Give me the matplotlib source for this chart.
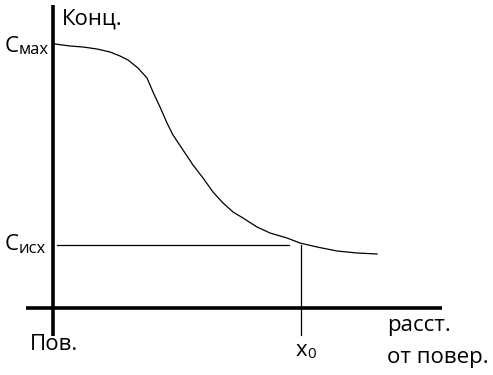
import matplotlib
matplotlib.use("Agg")
import matplotlib.pyplot as plt

plt.rcParams['font.family'] = ['Open Sans', 'DejaVu Sans']

# distance from surface vs concentration (arbitrary units)
dist = [2, 17, 30, 44, 57, 67, 75, 85, 94, 100, 107, 114, 120, 130, 140, 150,
        160, 170, 180, 190, 204, 217, 234, 247, 264, 284, 304, 324]
conc = [264, 262, 261, 259, 256, 252, 248, 240, 230, 216, 201, 185, 173, 158, 143, 130,
        116, 105, 96, 90, 81, 75, 70, 65, 61, 57, 55, 54]

c_ish = 63      # initial concentration level
x0 = 248        # depth x0

fig = plt.figure(figsize=(4.93, 3.75), dpi=100)
ax = fig.add_axes([0, 0, 1, 1])
ax.set_xlim(-53, 440)
ax.set_ylim(-67, 308)
ax.axis('off')

# axes
ax.plot([0, 0], [-28, 303], color='black', lw=2.6, solid_capstyle='butt')
ax.plot([-27, 389], [0, 0], color='black', lw=2.6, solid_capstyle='butt')

# curve
ax.plot(dist, conc, color='black', lw=0.9)

# guide lines
ax.plot([4, 236], [c_ish, c_ish], color='black', lw=0.9)
ax.plot([x0, x0], [c_ish, -27], color='black', lw=0.9)

fs = 16
ax.text(9, 289, 'Конц.', fontsize=fs, va='center', ha='left')
ax.text(-48, 262, 'C', fontsize=fs, va='center', ha='left')
ax.text(-34, 258, 'мах', fontsize=12, va='center', ha='left')
ax.text(-48, 63, 'C', fontsize=fs, va='center', ha='left')
ax.text(-34, 59, 'исх', fontsize=12, va='center', ha='left')
ax.text(-23, -37, 'Пов.', fontsize=fs, va='center', ha='left')
ax.text(243, -42, 'x', fontsize=fs, va='center', ha='left')
ax.text(254, -46, '0', fontsize=11, va='center', ha='left')
ax.text(334, -17, 'расст.', fontsize=fs, va='center', ha='left')
ax.text(334, -49, 'от повер.', fontsize=fs, va='center', ha='left')

fig.savefig('out.png', dpi=100)
